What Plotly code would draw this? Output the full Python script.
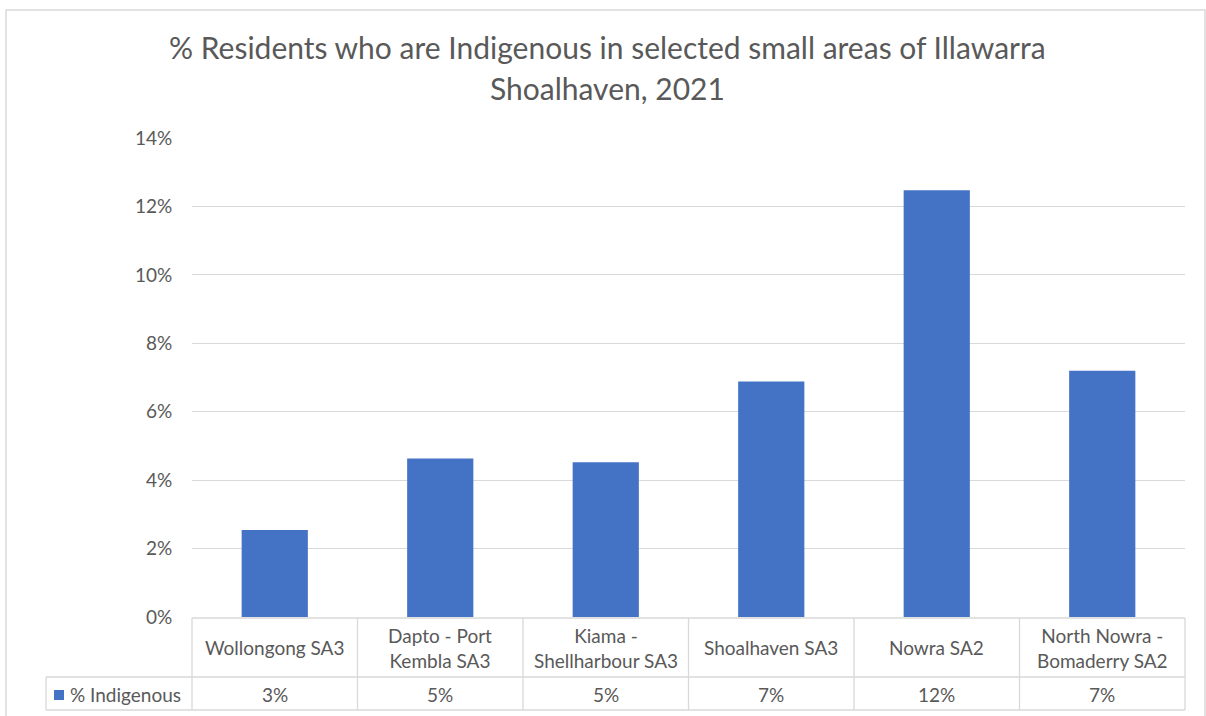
import plotly.graph_objects as go

# Share of residents who identify as Indigenous, 2021
areas = [
    "Wollongong SA3",
    "Dapto - Port Kembla SA3",
    "Kiama - Shellharbour SA3",
    "Shoalhaven SA3",
    "Nowra SA2",
    "North Nowra - Bomaderry SA2",
]
area_labels = [
    "Wollongong SA3",
    "Dapto - Port<br>Kembla SA3",
    "Kiama -<br>Shellharbour SA3",
    "Shoalhaven SA3",
    "Nowra SA2",
    "North Nowra -<br>Bomaderry SA2",
]
pct_indigenous = [0.0254, 0.0463, 0.0452, 0.0688, 0.1247, 0.0720]
series_name = "% Indigenous"
y_ticks = [0, 0.02, 0.04, 0.06, 0.08, 0.10, 0.12, 0.14]

W, H = 1206, 716
ML, MR, MT, MB = 192, 21, 138, 99
PW = W - ML - MR
PH = H - MT - MB

BAR = "#4472C4"
TXT = "#595959"
GRID = "#D9D9D9"
FONT = "Lato, Calibri, sans-serif"


def px_x(px):
    return (px - ML) / PW


def px_y(py):
    return (H - MB - py) / PH


fig = go.Figure(
    go.Bar(
        x=areas,
        y=pct_indigenous,
        marker=dict(color=BAR, line=dict(width=0)),
        name=series_name,
        hoverinfo="x+y",
    )
)

shapes = []
line = dict(color=GRID, width=1.3)
# data table grid under the plot
top, mid, bot = 618, 677, 710
left_tab = 46
shapes.append(dict(type="line", xref="paper", yref="paper",
                   x0=px_x(ML), x1=px_x(W - MR), y0=px_y(top), y1=px_y(top), line=line))
for yy in (mid, bot):
    shapes.append(dict(type="line", xref="paper", yref="paper",
                       x0=px_x(left_tab), x1=px_x(W - MR), y0=px_y(yy), y1=px_y(yy), line=line))
col_w = PW / len(areas)
for k in range(len(areas) + 1):
    xx = ML + k * col_w
    shapes.append(dict(type="line", xref="paper", yref="paper",
                       x0=px_x(xx), x1=px_x(xx), y0=px_y(top), y1=px_y(bot), line=line))
shapes.append(dict(type="line", xref="paper", yref="paper",
                   x0=px_x(left_tab), x1=px_x(left_tab), y0=px_y(mid), y1=px_y(bot), line=line))
# legend key swatch
shapes.append(dict(type="rect", xref="paper", yref="paper",
                   x0=px_x(54), x1=px_x(64), y0=px_y(700), y1=px_y(690),
                   fillcolor=BAR, line=dict(width=0)))
# chart border
shapes.append(dict(type="rect", xref="paper", yref="paper",
                   x0=px_x(6), x1=px_x(1205), y0=px_y(730), y1=px_y(10),
                   fillcolor="rgba(0,0,0,0)", line=dict(color="#D9D9D9", width=1.5)))

TABLE_FONT = dict(family=FONT, size=19, color=TXT)
annotations = []
for a, lab, v in zip(areas, area_labels, pct_indigenous):
    annotations.append(dict(x=a, xref="x", y=px_y(647.5), yref="paper",
                            text=lab, showarrow=False, yanchor="middle",
                            font=TABLE_FONT))
    annotations.append(dict(x=a, xref="x", y=px_y(694), yref="paper",
                            text=f"{v:.0%}", showarrow=False, yanchor="middle",
                            font=TABLE_FONT))
annotations.append(dict(x=px_x(68), xref="paper", y=px_y(694), yref="paper",
                        text=series_name, showarrow=False, xanchor="left", yanchor="middle",
                        font=TABLE_FONT))
# two-line chart title
TITLE_FONT = dict(family=FONT, size=30, color=TXT)
annotations.append(dict(x=px_x(607), xref="paper", y=px_y(47), yref="paper",
                        text="% Residents who are Indigenous in selected small areas of Illawarra",
                        showarrow=False, yanchor="middle", font=TITLE_FONT))
annotations.append(dict(x=px_x(607), xref="paper", y=px_y(88), yref="paper",
                        text="Shoalhaven, 2021",
                        showarrow=False, yanchor="middle", font=TITLE_FONT))

fig.update_layout(
    width=W, height=H,
    margin=dict(l=ML, r=MR, t=MT, b=MB, pad=0),
    paper_bgcolor="white", plot_bgcolor="white",
    bargap=0.6,
    showlegend=False,
    shapes=shapes,
    annotations=annotations,
    xaxis=dict(showticklabels=False, showgrid=False, zeroline=False, showline=False,
               ticks="", fixedrange=True),
    yaxis=dict(range=[0, 0.14], tickvals=y_ticks, tickformat=".0%",
               showgrid=True, gridcolor=GRID, gridwidth=1.3,
               zeroline=False, showline=False,
               ticks="outside", ticklen=15, tickcolor="rgba(0,0,0,0)",
               tickfont=dict(family=FONT, size=19, color=TXT)),
)

fig.write_html("out.html")
